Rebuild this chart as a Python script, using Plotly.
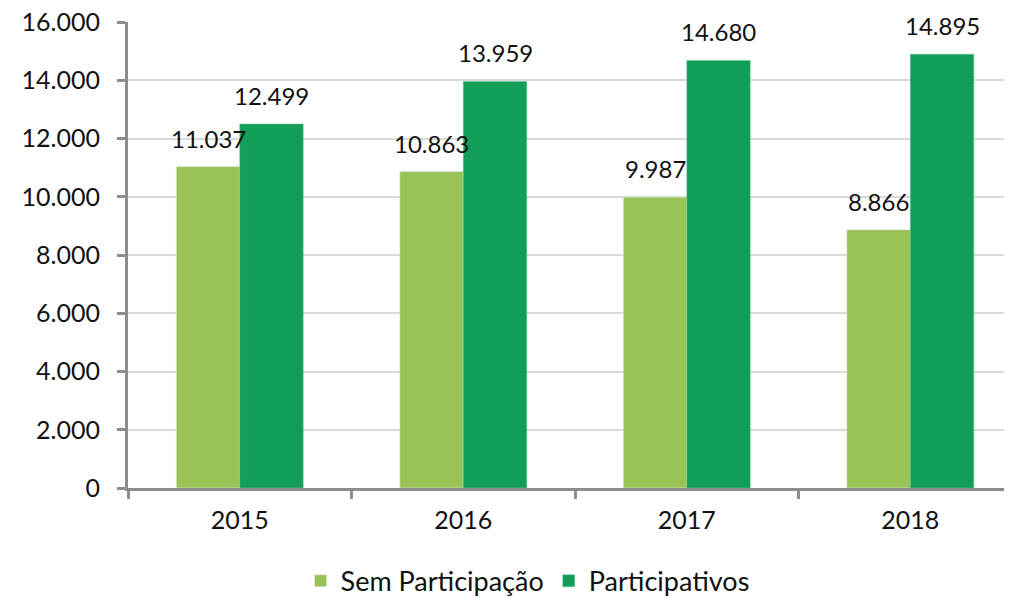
import plotly.graph_objects as go

years = ["2015", "2016", "2017", "2018"]
sem_participacao = [11037, 10863, 9987, 8866]
participativos = [12499, 13959, 14680, 14895]
y_ticks = [0, 2000, 4000, 6000, 8000, 10000, 12000, 14000, 16000]

def fmt(v):
    return f"{v:,}".replace(",", ".")

FONT = "Lato"
BAR_HALF_PX = 31.75  # half width of a bar in pixels (offset of each bar from the category centre)

fig = go.Figure()
fig.add_trace(go.Bar(
    name="Sem Participação", x=years, y=sem_participacao,
    marker=dict(color="#9AC356"),
))
fig.add_trace(go.Bar(
    name="Participativos", x=years, y=participativos,
    marker=dict(color="#129D58", line=dict(color="#6cc79a", width=0.5)),
))

for series, shift in ((sem_participacao, -BAR_HALF_PX), (participativos, BAR_HALF_PX)):
    for i, v in enumerate(series):
        fig.add_annotation(
            x=i, y=v, xref="x", yref="y", text=fmt(v), showarrow=False,
            xanchor="center", yanchor="bottom", xshift=shift, yshift=12,
            font=dict(size=24, color="#111111", family=FONT),
        )

# page body has an 8px default margin, so figure is offset by 8px
fig.update_layout(
    width=1004, height=590,
    margin=dict(l=120, r=0, t=14, b=110, autoexpand=False),
    paper_bgcolor="white", plot_bgcolor="white",
    barmode="group", bargap=0.432, bargroupgap=0,
    separators=",.",
    font=dict(family=FONT, size=24, color="#111111"),
    showlegend=True,
    legend=dict(orientation="h", x=0.452, xanchor="center", y=-0.2, yanchor="middle",
                font=dict(size=27, family=FONT), itemwidth=30, traceorder="normal"),
)
fig.update_yaxes(
    range=[0, 16000], tickvals=y_ticks, ticktext=[fmt(v) for v in y_ticks],
    automargin=False, ticklabeloverflow="allow", ticklabelstandoff=12,
    showgrid=True, gridcolor="#d9d9d9", gridwidth=2,
    showline=True, linecolor="#8c8c8c", linewidth=3,
    ticks="outside", ticklen=8, tickcolor="#8c8c8c", tickwidth=3,
    tickfont=dict(size=25, family=FONT), zeroline=False,
)
fig.update_xaxes(
    type="category", range=[-0.5, 3.455], automargin=False,
    showline=True, linecolor="#8c8c8c", linewidth=3,
    ticks="outside", tickson="boundaries", ticklen=8, tickcolor="#8c8c8c", tickwidth=3,
    tickfont=dict(size=25, family=FONT), showgrid=False, ticklabelstandoff=8,
)

fig.write_html("out.html")
